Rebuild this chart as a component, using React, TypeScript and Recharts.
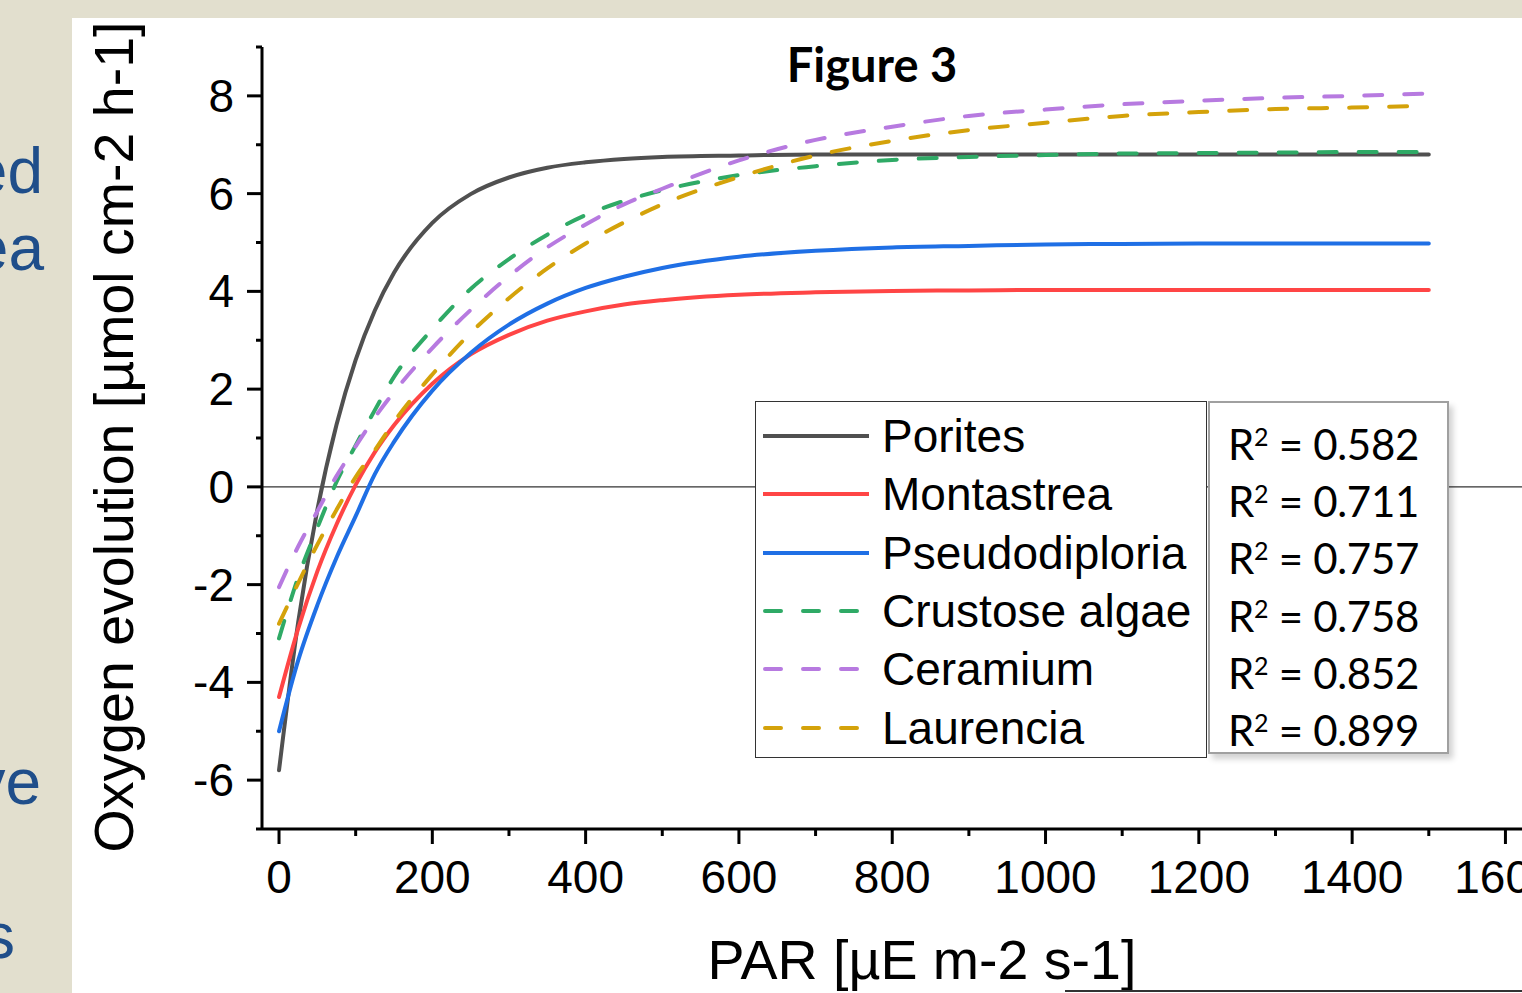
import React from 'react';
import { LineChart, Line, XAxis, YAxis, ReferenceLine } from 'recharts';

// light intensity (PAR) sample points
const parValues = [0, 25, 50, 75, 100, 125, 150, 200, 250, 300, 350, 400, 450, 500, 600, 700, 800, 900, 1000, 1100, 1200, 1300, 1400, 1500];

// oxygen evolution
const porites = [-5.8, -2.77, -0.47, 1.27, 2.6, 3.61, 4.38, 5.4, 5.99, 6.33, 6.53, 6.64, 6.71, 6.75, 6.78, 6.8, 6.8, 6.8, 6.8, 6.8, 6.8, 6.8, 6.8, 6.8];
const montastrea = [-4.3, -2.9, -1.73, -0.77, 0.04, 0.71, 1.26, 2.11, 2.71, 3.11, 3.4, 3.59, 3.73, 3.82, 3.93, 3.98, 4.01, 4.02, 4.03, 4.03, 4.03, 4.03, 4.03, 4.03];
const pseudodiploria = [-5.0, -3.55, -2.42, -1.45, -0.6, 0.26, 0.92, 1.97, 2.74, 3.32, 3.75, 4.07, 4.3, 4.48, 4.71, 4.83, 4.9, 4.93, 4.96, 4.97, 4.98, 4.98, 4.98, 4.98];
const crustoseAlgae = [-3.1, -1.85, -0.84, 0.1, 0.85, 1.57, 2.25, 3.23, 4.05, 4.66, 5.16, 5.56, 5.85, 6.07, 6.38, 6.56, 6.69, 6.75, 6.79, 6.82, 6.83, 6.84, 6.85, 6.85];
const ceramium = [-2.05, -1.22, -0.5, 0.22, 0.83, 1.42, 1.94, 2.84, 3.62, 4.31, 4.9, 5.37, 5.78, 6.1, 6.68, 7.1, 7.37, 7.59, 7.72, 7.83, 7.9, 7.96, 8.0, 8.05];
const laurencia = [-2.8, -1.97, -1.18, -0.47, 0.2, 0.75, 1.33, 2.3, 3.15, 3.86, 4.47, 4.98, 5.41, 5.78, 6.34, 6.78, 7.08, 7.3, 7.45, 7.59, 7.67, 7.73, 7.76, 7.8];

const speciesNames = ['Porites', 'Montastrea', 'Pseudodiploria', 'Crustose algae', 'Ceramium', 'Laurencia'];
const speciesKeys = ['porites', 'montastrea', 'pseudodiploria', 'crustose', 'ceramium', 'laurencia'];
const speciesValues = [porites, montastrea, pseudodiploria, crustoseAlgae, ceramium, laurencia];
const speciesColors = ['#505050', '#FF4545', '#1F6FE5', '#2FAA66', '#B77AE0', '#D4A20A'];
const speciesDashed = [false, false, false, true, true, true];
const rSquared = ['0.582', '0.711', '0.757', '0.758', '0.852', '0.899'];

const xTicks = [0, 100, 200, 300, 400, 500, 600, 700, 800, 900, 1000, 1100, 1200, 1300, 1400, 1500, 1600];
const yTicks = [-7, -6, -5, -4, -3, -2, -1, 0, 1, 2, 3, 4, 5, 6, 7, 8, 9];

const data = parValues.map((par, i) => {
  const row: Record<string, number> = { par };
  speciesKeys.forEach((k, s) => { row[k] = speciesValues[s][i]; });
  return row;
});

const tickFont = '"Liberation Sans", Arial, sans-serif';

function XTick(props: any) {
  const { x, y, payload } = props;
  const major = payload.value % 200 === 0;
  return (
    <g>
      <line x1={x} x2={x} y1={y} y2={y + (major ? 15 : 7)} stroke="#000" strokeWidth={3} />
      {major && (
        <text x={x} y={y + 64} textAnchor="middle" fontSize={46} fontFamily={tickFont} fill="#000">
          {payload.value}
        </text>
      )}
    </g>
  );
}

function YTick(props: any) {
  const { x, y, payload } = props;
  const major = payload.value % 2 === 0;
  return (
    <g>
      <line x1={x - (major ? 15 : 6)} x2={x} y1={y} y2={y} stroke="#000" strokeWidth={3} />
      {major && (
        <text x={x - 28} y={y + 16} textAnchor="end" fontSize={46} fontFamily={tickFont} fill="#000">
          {payload.value}
        </text>
      )}
    </g>
  );
}

function YTitle() {
  return (
    <text
      x={61}
      y={419}
      transform="rotate(-90 61 419)"
      textAnchor="middle"
      fontSize={55.5}
      fontFamily={tickFont}
      fill="#000"
    >
      Oxygen evolution [µmol cm-2 h-1]
    </text>
  );
}

function XTitle() {
  return (
    <text x={850} y={961} textAnchor="middle" fontSize={55.5} fontFamily={tickFont} fill="#000">
      PAR [µE m-2 s-1]
    </text>
  );
}

function SpeciesLegend() {
  return (
    <div
      style={{
        position: 'absolute', left: 755, top: 401, width: 450, height: 355,
        border: '1.5px solid #333', background: '#fff', boxSizing: 'content-box',
      }}
    >
      {speciesNames.map((name, i) => (
        <div key={name} style={{ position: 'absolute', left: 0, top: 34 + i * 58.3 - 29, height: 58, width: 450 }}>
          <svg width={120} height={58} style={{ position: 'absolute', left: 0, top: 0 }}>
            <line
              x1={speciesDashed[i] ? 9 : 7}
              x2={speciesDashed[i] ? 105 : 113}
              y1={29}
              y2={29}
              stroke={speciesColors[i]}
              strokeWidth={4}
              strokeDasharray={speciesDashed[i] ? '16 22' : undefined}
              strokeLinecap={speciesDashed[i] ? 'round' : 'butt'}
            />
          </svg>
          <div
            style={{
              position: 'absolute', left: 126, top: 0, lineHeight: '58px', fontSize: 46,
              fontFamily: tickFont, color: '#000', whiteSpace: 'nowrap',
            }}
          >
            {name}
          </div>
        </div>
      ))}
    </div>
  );
}

function RSquaredBox() {
  return (
    <div
      style={{
        position: 'absolute', left: 1208, top: 401, width: 237, height: 349,
        border: '2px solid #a0a0a0', background: '#fff', boxShadow: '4px 5px 6px rgba(0,0,0,0.18)',
      }}
    >
      {rSquared.map((r, i) => (
        <div
          key={r}
          style={{
            position: 'absolute', left: 18, top: 56 + i * 57.2 - 40, height: 50, lineHeight: '50px',
            fontSize: 42, fontFamily: 'Lato, sans-serif', color: '#000', whiteSpace: 'nowrap',
            letterSpacing: -0.3,
          }}
        >
          R<sup style={{ fontSize: 25, verticalAlign: 'top', lineHeight: '34px' }}>2</sup> = {r}
        </div>
      ))}
    </div>
  );
}

export default function App() {
  return (
    <div style={{ position: 'absolute', left: 0, top: 0, width: 1522, height: 993, overflow: 'hidden', background: '#E2DFCE' }}>
      <svg width={72} height={993} style={{ position: 'absolute', left: 0, top: 0 }}>
        <g fontSize={64} fontFamily={tickFont} fill="#1F4E8A" textAnchor="end">
          <text x={43} y={193}>ed</text>
          <text x={44} y={270}>ea</text>
          <text x={41} y={804}>ve</text>
          <text x={15} y={958}>s</text>
        </g>
      </svg>
      <div style={{ position: 'absolute', left: 72, top: 18, width: 1450, height: 975, background: '#fff' }}>
        <LineChart width={1450} height={975} data={data} margin={{ top: 29, right: 0, bottom: 0, left: 0 }}>
          <XAxis
            dataKey="par"
            type="number"
            domain={[-22.2, 1621.6]}
            allowDataOverflow
            ticks={xTicks}
            interval={0}
            height={164}
            tickSize={0}
            tickMargin={0}
            tickLine={false}
            axisLine={{ stroke: '#000', strokeWidth: 3 }}
            tick={(p: any) => <XTick {...p} />}
            label={<XTitle />}
          />
          <YAxis
            type="number"
            domain={[-7, 9]}
            allowDataOverflow
            ticks={yTicks}
            interval={0}
            width={190}
            tickSize={0}
            tickMargin={0}
            tickLine={false}
            axisLine={{ stroke: '#000', strokeWidth: 3 }}
            tick={(p: any) => <YTick {...p} />}
            label={<YTitle />}
          />
          <ReferenceLine y={0} stroke="#333" strokeWidth={1.2} />
          {speciesKeys.map((k, i) => (
            <Line
              key={k}
              dataKey={k}
              type="monotone"
              stroke={speciesColors[i]}
              strokeWidth={4}
              strokeDasharray={speciesDashed[i] ? '18 22' : undefined}
              strokeLinecap="round"
              dot={false}
              activeDot={false}
              isAnimationActive={false}
            />
          ))}
        </LineChart>
      </div>
      <div
        style={{
          position: 'absolute', left: 700, top: 37, width: 344, textAlign: 'center',
          fontFamily: 'Lato, sans-serif', fontWeight: 700, fontSize: 47, color: '#000', lineHeight: '54px',
        }}
      >
        Figure 3
      </div>
      <SpeciesLegend />
      <RSquaredBox />
      <div style={{ position: 'absolute', left: 1065, top: 990, width: 457, height: 2, background: '#333' }} />
    </div>
  );
}
